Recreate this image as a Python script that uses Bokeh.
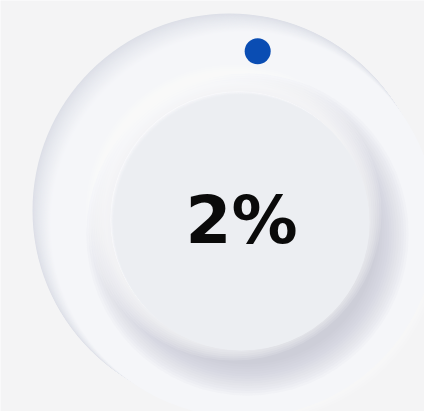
import math
from bokeh.plotting import figure
from bokeh.models import Range1d
from bokeh.embed import file_html
from bokeh.resources import INLINE
from bokeh.core.properties import value

# ---- data ----
gauge_value = [2]          # percent
gauge_label = ["2%"]
gauge_min = [0]
gauge_max = [100]
sweep_degrees = 270        # knob rotation for full scale

# ---- layout constants (pixel space, y downward) ----
W, H = 424, 411
OUT_CX, OUT_CY, OUT_R = 229, 210, 197
IN_CX, IN_CY, IN_R = 241, 222, 128
DOT_ORBIT, DOT_R = 172, 13


def hex2rgb(h):
    h = h.lstrip("#")
    return tuple(int(h[i:i + 2], 16) for i in (0, 2, 4))


def lerp(c1, c2, t):
    a, b = hex2rgb(c1), hex2rgb(c2)
    return "#%02x%02x%02x" % tuple(round(a[i] + (b[i] - a[i]) * t) for i in range(3))


p = figure(width=W, height=H, x_range=Range1d(0, W), y_range=Range1d(H, 0),
           output_backend="svg", toolbar_location=None, min_border=0)
p.axis.visible = False
p.grid.visible = False
p.outline_line_color = None
p.background_fill_color = "#f4f4f5"
p.border_fill_color = "#f4f4f5"

# white glow outside bottom-right edge
for k in range(1, 10):
    p.circle(x=[OUT_CX + 3 * k], y=[OUT_CY + 3 * k], radius=[OUT_R - 1.5 * k],
             fill_color="#ffffff", fill_alpha=0.10, line_color=None)

# outer knob: stacked shifted discs -> shaded edge top-left, bright bottom-right
n = 34
xs, ys, rs, cs = [], [], [], []
for i in range(n):
    t = i / (n - 1)
    xs.append(OUT_CX + 14 * t)
    ys.append(OUT_CY + 14 * t)
    rs.append(OUT_R - 4 * t)
    cs.append(lerp("#dcdfe7", "#f5f6f9", t ** 0.8))
p.circle(x=xs, y=ys, radius=rs, fill_color=cs, line_color=None)

# drop shadow of inner button (bottom-right)
for k in range(14):
    p.circle(x=[IN_CX + 6], y=[IN_CY + 12], radius=[IN_R + 2 + 2.4 * k],
             fill_color="#a9afc3", fill_alpha=0.05, line_color=None)
# highlight (top-left)
for k in range(10):
    p.circle(x=[IN_CX - 8], y=[IN_CY - 10], radius=[IN_R + 2 + 2.0 * k],
             fill_color="#ffffff", fill_alpha=0.13, line_color=None)

# inner button
m = 12
xs, ys, cs = [], [], []
for i in range(m):
    t = i / (m - 1)
    xs.append(IN_CX - 3 + 3 * t)
    ys.append(IN_CY - 3 + 3 * t)
    cs.append(lerp("#fbfbfd", "#eceef2", t ** 0.5))
p.circle(x=xs, y=ys, radius=IN_R, fill_color=cs, line_color=None)

# indicator dot
frac = (gauge_value[0] - gauge_min[0]) / (gauge_max[0] - gauge_min[0])
ang = math.radians(frac * sweep_degrees)
dx = [IN_CX + DOT_ORBIT * math.sin(ang)]
dy = [IN_CY - DOT_ORBIT * math.cos(ang)]
p.circle(x=dx, y=dy, radius=DOT_R, fill_color="#0a4db3", line_color=None)

# value label
p.text(x=[IN_CX], y=[IN_CY], text=gauge_label, text_font=value("DejaVu Sans"),
       text_font_style="bold", text_font_size="66px", text_color="#0a0a0a",
       text_align="center", text_baseline="middle", y_offset=-2)

open("out.html", "w").write(file_html(p, INLINE))
